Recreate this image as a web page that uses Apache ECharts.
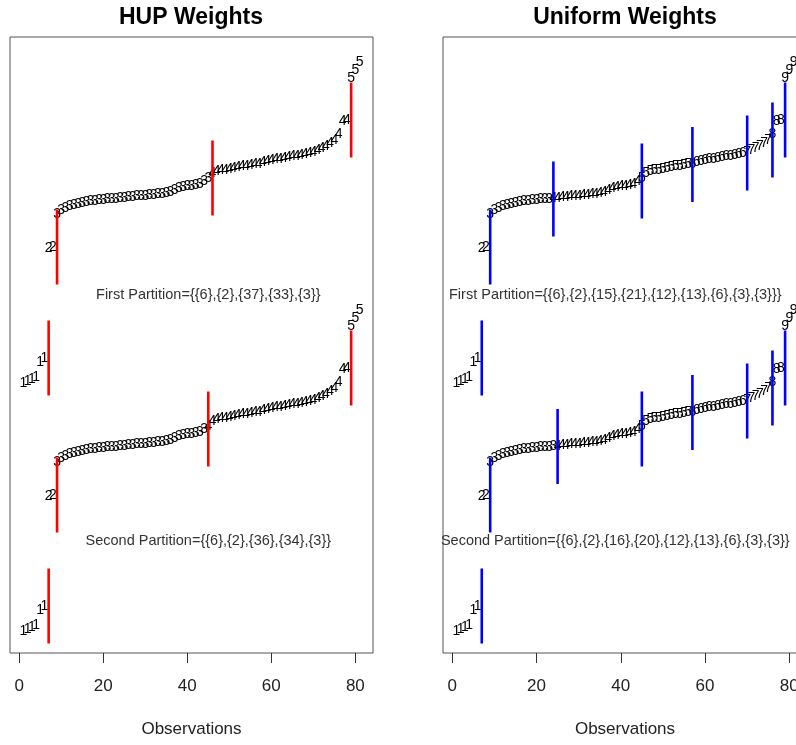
<!DOCTYPE html>
<html>
<head>
<meta charset="utf-8">
<script src="https://cdn.jsdelivr.net/npm/echarts@6/dist/echarts.min.js"></script>
<style>
html, body { margin: 0; padding: 0; background: #fff; }
#main { width: 796px; height: 745px; }
</style>
</head>
<body>
<div id="main"></div>
<script>
// sorted observations (same series in both panels)
const obsValues = [
    54.0, 54.4, 54.8, 55.2, 58.2, 59.0,
    81.0, 81.2,
    87.8, 88.6, 89.0, 89.4, 89.6, 89.8, 90.0, 90.2, 90.3, 90.4, 90.5, 90.6,
    90.7, 90.8, 90.8, 90.9, 91.0, 91.1, 91.2, 91.3, 91.4, 91.4, 91.5, 91.6,
    91.7, 91.8, 91.9, 92.2, 92.6, 93.0, 93.2, 93.3, 93.4, 93.5, 93.8, 94.4, 95.0,
    96.0, 96.3, 96.5, 96.6, 96.8, 97.0, 97.2, 97.3, 97.4, 97.6, 97.7, 97.8,
    98.2, 98.4, 98.6, 98.7, 98.8, 99.0, 99.2, 99.3, 99.4, 99.6, 99.8, 100.0,
    100.1, 100.6, 101.0, 101.4, 102.0, 102.6, 103.8, 106.4, 106.6,
    115.0, 116.6, 118.2
];

// partition group sizes
const hupFirst = [6, 2, 37, 33, 3];
const hupSecond = [6, 2, 36, 34, 3];
const uniFirst = [6, 2, 15, 21, 12, 13, 6, 3, 3];
const uniSecond = [6, 2, 16, 20, 12, 13, 6, 3, 3];

const notes = [
    'First Partition={{6},{2},{37},{33},{3}}',
    'Second Partition={{6},{2},{36},{34},{3}}',
    'First Partition={{6},{2},{15},{21},{12},{13},{6},{3},{3}}}',
    'Second Partition={{6},{2},{16},{20},{12},{13},{6},{3},{3}}'
];

const xTicks = [0, 20, 40, 60, 80];
const titles = ['HUP Weights', 'Uniform Weights'];

// layout
const shift = 49.6;      // second partition drawn lower
const half = 7.5;        // half length of partition bars
const yMax = 123.2;

function pointData(sizes) {
    let out = [];
    let i = 0;
    sizes.forEach((n, g) => {
        for (let k = 0; k < n; k++) {
            out.push([i + 1, obsValues[i], g + 1]);
            i++;
        }
    });
    return out;
}

function barData(sizes) {
    let out = [];
    let i = 0;
    sizes.forEach((n, g) => {
        i += n;
        if (g < sizes.length - 1) out.push([i + 1, obsValues[i - 1]]);
    });
    return out;
}

function textSeries(data, xi, yi) {
    return {
        type: 'custom',
        xAxisIndex: xi,
        yAxisIndex: yi,
        encode: { x: 0, y: 1 },
        data: data,
        silent: true,
        clip: false,
        renderItem: function (params, api) {
            const p = api.coord([api.value(0), api.value(1)]);
            return {
                type: 'text',
                x: p[0],
                y: p[1],
                style: {
                    text: String(api.value(2)),
                    fontSize: 14,
                    fontFamily: 'Liberation Sans, Arial',
                    fill: '#000',
                    align: 'center',
                    verticalAlign: 'middle'
                }
            };
        }
    };
}

function barSeries(data, xi, yi, color) {
    return {
        type: 'custom',
        xAxisIndex: xi,
        yAxisIndex: yi,
        encode: { x: 0, y: 1 },
        data: data,
        silent: true,
        z: 5,
        renderItem: function (params, api) {
            const a = api.coord([api.value(0), api.value(1) - half]);
            const b = api.coord([api.value(0), api.value(1) + half]);
            return {
                type: 'line',
                shape: { x1: a[0], y1: a[1], x2: b[0], y2: b[1] },
                style: { stroke: color, lineWidth: 2.6 }
            };
        }
    };
}

function noteSeries(text, x, y, xi, yi) {
    return {
        type: 'custom',
        xAxisIndex: xi,
        yAxisIndex: yi,
        encode: { x: 0, y: 1 },
        data: [[x, y]],
        silent: true,
        renderItem: function (params, api) {
            const p = api.coord([api.value(0), api.value(1)]);
            return {
                type: 'text',
                x: p[0],
                y: p[1],
                style: {
                    text: text,
                    fontSize: 14.5,
                    fontFamily: 'Liberation Sans, Arial',
                    fill: '#333',
                    align: 'center',
                    verticalAlign: 'middle'
                }
            };
        }
    };
}

function xAxisFor(gi) {
    return {
        type: 'value',
        gridIndex: gi,
        min: -2.2,
        max: 84.2,
        name: 'Observations',
        nameLocation: 'middle',
        nameGap: 68,
        nameTextStyle: { fontSize: 17, color: '#222', fontFamily: 'Liberation Sans, Arial' },
        axisLine: { show: false },
        splitLine: { show: false },
        axisTick: {
            show: true,
            length: 10,
            customValues: xTicks,
            lineStyle: { color: '#333', width: 1 }
        },
        axisLabel: {
            customValues: xTicks,
            fontSize: 17,
            color: '#222',
            margin: 25,
            fontFamily: 'Liberation Sans, Arial'
        }
    };
}

function yAxisFor(gi, lo) {
    return {
        type: 'value',
        gridIndex: gi,
        min: lo,
        max: lo + yMax,
        show: false
    };
}

const chart = echarts.init(document.getElementById('main'));

chart.setOption({
    backgroundColor: '#fff',
    animation: false,
    graphic: [
        {
            type: 'text', x: 191, y: 18,
            style: { text: titles[0], font: 'bold 23px Liberation Sans, Arial', fill: '#000', align: 'center', verticalAlign: 'middle' }
        },
        {
            type: 'text', x: 625, y: 18,
            style: { text: titles[1], font: 'bold 23px Liberation Sans, Arial', fill: '#000', align: 'center', verticalAlign: 'middle' }
        }
    ],
    grid: [
        { left: 10, width: 363, top: 37, bottom: 92, show: true, borderColor: '#555', borderWidth: 1, outerBoundsMode: 'none' },
        { left: 443, width: 364, top: 37, bottom: 92, show: true, borderColor: '#555', borderWidth: 1, outerBoundsMode: 'none' }
    ],
    xAxis: [xAxisFor(0), xAxisFor(1)],
    yAxis: [yAxisFor(0, 0), yAxisFor(0, shift), yAxisFor(1, 0), yAxisFor(1, shift)],
    series: [
        textSeries(pointData(hupFirst), 0, 0),
        textSeries(pointData(hupSecond), 0, 1),
        barSeries(barData(hupFirst), 0, 0, '#ff0000'),
        barSeries(barData(hupSecond), 0, 1, '#ff0000'),
        noteSeries(notes[0], 45, 71.6, 0, 0),
        noteSeries(notes[1], 45, 72.0, 0, 1),

        textSeries(pointData(uniFirst), 1, 2),
        textSeries(pointData(uniSecond), 1, 3),
        barSeries(barData(uniFirst), 1, 2, '#0000ff'),
        barSeries(barData(uniSecond), 1, 3, '#0000ff'),
        noteSeries(notes[2], 38.7, 71.6, 1, 2),
        noteSeries(notes[3], 38.7, 72.0, 1, 3)
    ]
});
</script>
</body>
</html>
